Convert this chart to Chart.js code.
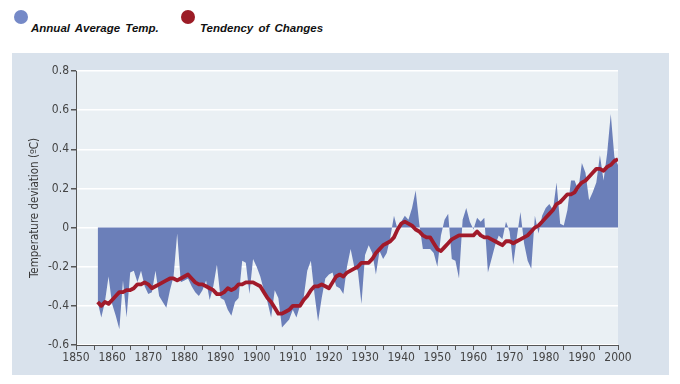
<!DOCTYPE html>
<html>
<head>
<meta charset="utf-8">
<script src="https://cdn.jsdelivr.net/npm/chart.js@4"></script>
<style>
  html, body { margin: 0; padding: 0; background: #ffffff; }
  body { width: 680px; height: 384px; position: relative; overflow: hidden; font-family: "Liberation Sans", Arial, sans-serif; }
  .legend { position: absolute; top: 0; left: 0; }
  .legend .dot { position: absolute; width: 14px; height: 14px; border-radius: 50%; }
  .legend .txt { position: absolute; font-weight: bold; font-style: italic; font-size: 11.5px; color: #111; white-space: nowrap; word-spacing: 2px; }
  #wrap { position: absolute; left: 12px; top: 53px; width: 657px; height: 322px; background: #d9e2ec; }
</style>
</head>
<body>
<div class="legend">
  <div class="dot" style="left:14px;top:10px;background:#7589c7"></div>
  <div class="txt" style="left:31px;top:22px">Annual Average Temp.</div>
  <div class="dot" style="left:181px;top:10px;background:#9c1c26"></div>
  <div class="txt" style="left:200px;top:22px">Tendency of Changes</div>
</div>
<div id="wrap"><canvas id="chart"></canvas></div>
<script>
const years = [];
for (let y = 1856; y <= 2000; y++) years.push(y);

// annual deviation
const annual = [
  -0.38, -0.46, -0.38, -0.25, -0.39, -0.45, -0.52, -0.27, -0.46, -0.23,
  -0.22, -0.28, -0.22, -0.30, -0.34, -0.33, -0.22, -0.35, -0.38, -0.41,
  -0.32, -0.25, -0.03, -0.28, -0.27, -0.26, -0.30, -0.33, -0.35, -0.32,
  -0.27, -0.37, -0.30, -0.19, -0.36, -0.37, -0.42, -0.45, -0.38, -0.36,
  -0.17, -0.18, -0.34, -0.16, -0.20, -0.25, -0.32, -0.38, -0.46, -0.32,
  -0.36, -0.51, -0.49, -0.47, -0.42, -0.46, -0.40, -0.36, -0.22, -0.17,
  -0.34, -0.48, -0.36, -0.26, -0.24, -0.23, -0.30, -0.31, -0.34, -0.20,
  -0.11, -0.20, -0.22, -0.39, -0.14, -0.09, -0.13, -0.24, -0.12, -0.16,
  -0.13, -0.05, 0.06, -0.01, 0.03, 0.06, 0.04, 0.10, 0.19, 0.02,
  -0.11, -0.11, -0.11, -0.13, -0.20, -0.04, 0.04, 0.07, -0.16, -0.17,
  -0.26, 0.04, 0.10, 0.03, -0.01, 0.05, 0.03, 0.05, -0.23, -0.16,
  -0.09, -0.04, -0.06, 0.03, -0.02, -0.19, -0.05, 0.08, -0.08, -0.17,
  -0.21, 0.06, -0.03, 0.06, 0.10, 0.12, 0.09, 0.23, 0.02, 0.01,
  0.09, 0.24, 0.24, 0.19, 0.33, 0.28, 0.14, 0.18, 0.23, 0.37,
  0.24, 0.38, 0.58, 0.36, 0.32
];

// smoothed tendency line
const tendency = [
  -0.38, -0.40, -0.38, -0.39, -0.37, -0.35, -0.33, -0.33, -0.32, -0.32,
  -0.31, -0.29, -0.29, -0.28, -0.29, -0.31, -0.30, -0.29, -0.28, -0.27,
  -0.26, -0.26, -0.27, -0.26, -0.25, -0.24, -0.26, -0.28, -0.29, -0.29,
  -0.30, -0.31, -0.32, -0.34, -0.34, -0.33, -0.31, -0.32, -0.31, -0.29,
  -0.29, -0.28, -0.28, -0.28, -0.29, -0.30, -0.33, -0.36, -0.38, -0.41,
  -0.44, -0.44, -0.43, -0.42, -0.40, -0.40, -0.40, -0.37, -0.35, -0.32,
  -0.30, -0.30, -0.29, -0.30, -0.31, -0.28, -0.25, -0.24, -0.25, -0.23,
  -0.22, -0.21, -0.20, -0.18, -0.18, -0.18, -0.16, -0.13, -0.11, -0.09,
  -0.08, -0.07, -0.05, -0.01, 0.02, 0.03, 0.02, 0.01, -0.01, -0.02,
  -0.04, -0.05, -0.05, -0.08, -0.11, -0.12, -0.10, -0.08, -0.06, -0.05,
  -0.04, -0.04, -0.04, -0.04, -0.04, -0.02, -0.04, -0.05, -0.05, -0.06,
  -0.07, -0.08, -0.09, -0.07, -0.07, -0.08, -0.07, -0.06, -0.05, -0.04,
  -0.02, 0.00, 0.01, 0.03, 0.05, 0.07, 0.09, 0.12, 0.13, 0.15,
  0.17, 0.17, 0.18, 0.21, 0.23, 0.24, 0.26, 0.28, 0.30, 0.30,
  0.29, 0.31, 0.32, 0.34, 0.35
];

const tickFont = { family: '"Liberation Sans Narrow", "DejaVu Sans Condensed", sans-serif', size: 12 };

const plotBg = {
  id: 'plotBg',
  beforeDraw(chart) {
    const a = chart.chartArea, ctx = chart.ctx;
    ctx.save();
    ctx.fillStyle = '#eaf0f4';
    ctx.fillRect(a.left, a.top, a.right - a.left, a.bottom - a.top);
    ctx.restore();
  }
};

new Chart(document.getElementById('chart'), {
  type: 'line',
  data: {
    datasets: [
      { label: 'Tendency of Changes', data: years.map((y, i) => ({ x: y, y: tendency[i] })), borderColor: '#a11a2a', borderWidth: 3.8, pointRadius: 0, tension: 0, fill: false, borderJoinStyle: 'round', order: 0 },
      { label: 'Annual Average Temp.', data: years.map((y, i) => ({ x: y, y: annual[i] })), borderWidth: 0, borderColor: 'rgba(0,0,0,0)', backgroundColor: '#6b7fb9', pointRadius: 0, tension: 0, fill: 'origin', order: 1 }
    ]
  },
  options: {
    responsive: true,
    maintainAspectRatio: false,
    animation: false,
    layout: { padding: { left: 0, top: 18, right: 51, bottom: 0 } },
    plugins: { legend: { display: false }, tooltip: { enabled: false } },
    scales: {
      x: {
        type: 'linear', min: 1850, max: 2000,
        grid: { drawOnChartArea: false, tickColor: '#555', tickLength: 5, lineWidth: 1 },
        border: { display: true, color: '#555', width: 1 },
        ticks: { stepSize: 5, autoSkip: false, maxRotation: 0, color: '#444', font: tickFont, padding: 1,
          callback: v => (v % 10 === 0 ? String(v) : '') },
        afterFit: s => { s.height = 30; }
      },
      y: {
        min: -0.6, max: 0.8,
        grid: { color: '#ffffff', lineWidth: 1.5, tickColor: '#555', tickLength: 5 },
        border: { display: true, color: '#555', width: 1 },
        ticks: { stepSize: 0.2, color: '#444', font: tickFont, padding: 2,
          callback: v => String(Math.round(v * 10) / 10) },
        title: { display: true, text: 'Temperature deviation (ºC)', color: '#3a3a3a', font: { family: tickFont.family, size: 11.5 }, padding: { top: 16, bottom: 0 } },
        afterFit: s => { s.width = 64; }
      }
    }
  },
  plugins: [plotBg]
});
</script>
</body>
</html>
